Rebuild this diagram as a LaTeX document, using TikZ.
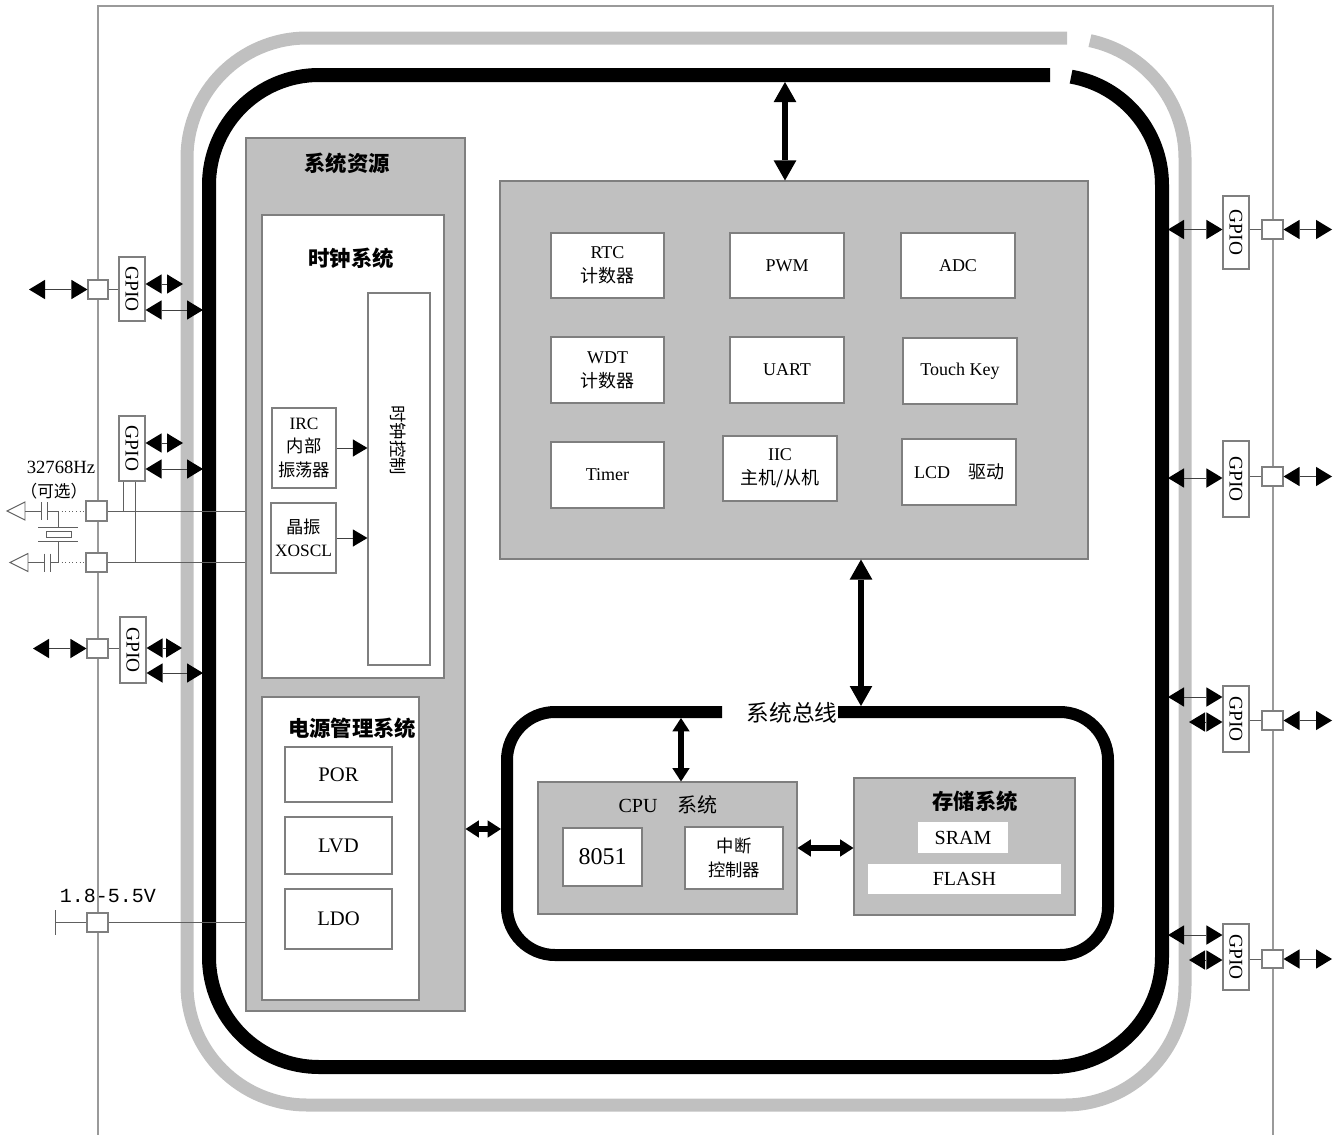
\documentclass[tikz,border=0pt]{standalone}
\usepackage{fontspec}
\setmainfont{Liberation Serif}
\newfontfamily\cjk{Noto Sans CJK SC}
\newfontfamily\monofnt{Liberation Mono}
\usetikzlibrary{arrows.meta,fit}
\newcommand\zh[1]{{\cjk #1}}
\newcommand\fs[2]{\fontsize{#1}{#2}\selectfont}
\newcommand\bxt[6]{\node[#4,fit={(#2) (#3)}] (#1) {};\node[align=center,inner sep=0pt,#5] (#1-t) at (#1.center) {#6};}
\definecolor{ringgray}{HTML}{C0C0C0}
\definecolor{edgegray}{HTML}{7F7F7F}
\definecolor{framegray}{HTML}{9A9A9A}
\definecolor{linegray}{HTML}{606060}
\definecolor{arrgray}{HTML}{404040}
\begin{document}
\begin{tikzpicture}[x=0.75pt,y=-0.75pt,
 panel/.style={draw=edgegray,fill=ringgray,line width=0.8pt,inner sep=0pt},
 wbox/.style={draw=edgegray,fill=white,line width=0.8pt,inner sep=0pt},
 wfill/.style={fill=white,inner sep=0pt},
 wire/.style={draw=linegray,line width=0.7pt},
 gp/.style={draw=arrgray,line width=0.7pt,{Triangle[length=12pt,width=14.5pt,line width=0pt,fill=black,color=black]}-{Triangle[length=12pt,width=14.5pt,line width=0pt,fill=black,color=black]}},
 bigarr/.style={draw=black,line width=5pt,{Triangle[length=15pt,width=17pt,line width=0pt]}-{Triangle[length=15pt,width=17pt,line width=0pt]}},
 midarr/.style={draw=black,line width=4pt,{Triangle[length=10pt,width=13pt,line width=0pt]}-{Triangle[length=10pt,width=13pt,line width=0pt]}},
 feed/.style={draw=arrgray,line width=0.7pt,-{Triangle[length=11pt,width=13pt,line width=0pt,fill=black,color=black]}},
 ttl/.style={font=\cjk\bfseries\fs{16}{19}},
 pbox/.style={font=\fs{13.5}{18}},
 cbox/.style={font=\fs{13}{17.5}},
 gpiot/.style={rotate=-90,font=\fs{14.5}{16}},
]
\useasboundingbox (0,0) rectangle (1343,1135);

% outer frame
\draw[framegray,line width=1pt] (98,1135) -- (98,6) -- (1273,6) -- (1273,1135);

% gray ring
\draw[ringgray,line width=9.75pt] (1065,158) ++(282:120) arc[start angle=282,end angle=360,radius=120]
  -- (1185,985) arc[start angle=0,end angle=90,radius=120]
  -- (307,1105) arc[start angle=90,end angle=180,radius=120]
  -- (187,158) arc[start angle=180,end angle=270,radius=120] -- (1067,38);
% black ring
\draw[black,line width=10.5pt] (1052,185) ++(280:110) arc[start angle=280,end angle=360,radius=110]
  -- (1162,957) arc[start angle=0,end angle=90,radius=110]
  -- (319,1067) arc[start angle=90,end angle=180,radius=110]
  -- (209,185) arc[start angle=180,end angle=270,radius=110] -- (1050,75);

% system resources
\node[panel,fit={(246,138) (465,1011)}] (sysres) {};
\node[ttl] (sysrest) at (347,163) {系统资源};
\node[wbox,fit={(262,215) (444,678)}] (clk) {};
\node[ttl] (clkt) at (351,258) {时钟系统};
\node[wbox,fit={(368,293) (430,665)}] (clkctl) {};
\node[rotate=-90,font=\cjk\fs{13}{15}] (clkctlt) at (398,440) {时钟控制};
\bxt{irc}{272,408}{336,488}{wbox}{cbox}{IRC\\\zh{内部}\\\zh{振荡器}}
\bxt{xosc}{271,503}{336,573}{wbox}{cbox}{\zh{晶振}\\XOSCL}
\draw[feed] (irc.east) -- (irc.east -| clkctl.west);
\draw[feed] (xosc.east) -- (xosc.east -| clkctl.west);

\node[wbox,fit={(262,697) (419,1000)}] (pwr) {};
\node[ttl] (pwrt) at (352,728) {电源管理系统};
\bxt{por}{285,747}{392,802}{wbox}{font=\fs{15.5}{18}}{POR}
\bxt{lvd}{285,817}{392,874}{wbox}{font=\fs{15.5}{18}}{LVD}
\bxt{ldo}{285,889}{392,949}{wbox}{font=\fs{15.5}{18}}{LDO}

% peripherals
\node[panel,fit={(500,181) (1088,559)}] (periph) {};
\bxt{rtc}{551,233}{664,298}{wbox}{pbox}{RTC\\\zh{计数器}}
\bxt{pwm}{730,233}{844,298}{wbox}{pbox}{PWM}
\bxt{adc}{901,233}{1015,298}{wbox}{pbox}{ADC}
\bxt{wdt}{551,337}{664,403}{wbox}{pbox}{WDT\\\zh{计数器}}
\bxt{uart}{730,337}{844,403}{wbox}{pbox}{UART}
\bxt{touch}{903,338}{1017,404}{wbox}{pbox}{Touch Key}
\bxt{timer}{551,442}{664,508}{wbox}{pbox}{Timer}
\bxt{iic}{723,436}{837,501}{wbox}{pbox}{IIC\\\zh{主机/从机}}
\bxt{lcd}{902,439}{1016,505}{wbox}{pbox}{LCD\quad\zh{驱动}}

% system bus
\draw[black,line width=9pt,rounded corners=36pt] (722,712) -- (507,712) -- (507,955) -- (1108,955) -- (1108,712) -- (838,712);
\node[font=\cjk\fs{17}{20}] (busl) at (792,713) {系统总线};
\node[panel,fit={(538,782) (797,914)}] (cpu) {};
\node[font=\fs{15}{18}] (cput) at (668,805) {CPU\quad\zh{系统}};
\bxt{c8051}{563,828}{642,886}{wbox}{font=\fs{18}{20}}{8051}
\bxt{intc}{685,827}{783,889}{wbox}{font=\cjk\fs{13}{17.5}}{中断\\控制器}
\node[panel,fit={(854,778) (1075,915)}] (mem) {};
\node[ttl] (memt) at (975,801) {存储系统};
\bxt{sram}{918,822}{1008,853}{wfill}{font=\fs{15}{18}}{SRAM}
\bxt{flash}{868,864}{1061,894}{wfill}{font=\fs{15}{18}}{FLASH}

% bus arrows
\coordinate (toptap) at (785,82);
\draw[bigarr] (toptap) -- (toptap |- periph.north);
\coordinate (bustap) at (861,706);
\draw[bigarr] (bustap |- periph.south) -- (bustap);
\coordinate (cputap) at (681,718);
\draw[midarr] (cputap) -- (cputap |- cpu.north);
\draw[midarr] (cpu.east) -- (cpu.east -| mem.west);
\coordinate (restap) at (501,829);
\draw[midarr] (restap -| sysres.east) -- (restap);

% left GPIO 1
\node[wbox,fit={(119,257) (145,321)}] (gl1) {};
\node[gpiot] (gl1t) at (gl1.center) {GPIO};
\node[wbox,fit={(88,280) (108,299)}] (sl1) {};
\coordinate (el1) at (29,289.5);
\draw[gp] (el1) -- (el1 -| sl1.west);
\draw[wire] (sl1.east) -- (sl1.east -| gl1.west);
\coordinate (gg1) at (183,284);
\draw[gp] (gg1 -| gl1.east) -- (gg1);
\coordinate (bb1) at (203,310);
\draw[gp] (bb1 -| gl1.east) -- (bb1);

% left GPIO 2 and crystal
\node[wbox,fit={(119,416) (145,481)}] (gl2) {};
\node[gpiot] (gl2t) at (gl2.center) {GPIO};
\coordinate (gg2) at (183,443);
\draw[gp] (gg2 -| gl2.east) -- (gg2);
\coordinate (bb2) at (203,469);
\draw[gp] (bb2 -| gl2.east) -- (bb2);
\node[wbox,fit={(86,501) (107,521)}] (xa) {};
\node[wbox,fit={(86,553) (107,572)}] (xb) {};
\draw[wire] (xa.east) -- (xa.east -| sysres.west);
\draw[wire] (xb.east) -- (xb.east -| sysres.west);
\coordinate (ta) at (123,0);
\coordinate (tb) at (135,0);
\draw[wire] (gl2.south -| ta) -- (xa.east -| ta);
\draw[wire] (gl2.south -| tb) -- (xb.east -| tb);
\draw[wire] (7,511) -- (25,502) -- (25,520) -- cycle;
\draw[wire] (25,511) -- (41,511) (41,502) -- (41,520) (47,502) -- (47,520) (47,511) -- (58,511);
\draw[wire,dotted] (58,511) -- (xa.west);
\draw[wire] (58,511) -- (58,527) (38,527) -- (78,527) (46,531) rectangle (71,537) (38,541) -- (78,541) (58,541) -- (58,562.5);
\draw[wire] (10,562.5) -- (28,553.5) -- (28,571.5) -- cycle;
\draw[wire] (28,562.5) -- (44,562.5) (44,553.5) -- (44,571.5) (50,553.5) -- (50,571.5) (50,562.5) -- (58,562.5);
\draw[wire,dotted] (58,562.5) -- (xb.west);
\node[font=\fs{14}{16}] (hz) at (61,467) {32768Hz};
\node[font=\cjk\fs{12.5}{15}] (opt) at (54,491) {（可选）};

% left GPIO 3
\node[wbox,fit={(120,617) (146,683)}] (gl3) {};
\node[gpiot] (gl3t) at (gl3.center) {GPIO};
\node[wbox,fit={(87,639) (108,658)}] (sl3) {};
\coordinate (el3) at (33,648.5);
\draw[gp] (el3) -- (el3 -| sl3.west);
\draw[wire] (sl3.east) -- (sl3.east -| gl3.west);
\coordinate (gg3) at (182,648);
\draw[gp] (gg3 -| gl3.east) -- (gg3);
\coordinate (bb3) at (203,673);
\draw[gp] (bb3 -| gl3.east) -- (bb3);

% supply
\node[wbox,fit={(87,913) (108,932)}] (spw) {};
\coordinate (vin) at (55,922.5);
\draw[wire] (vin) -- (vin -| spw.west);
\draw[wire] (55,910) -- (55,935);
\draw[wire] (spw.east) -- (spw.east -| sysres.west);
\node[font=\monofnt\fs{15}{16}] (vlab) at (108,896) {1.8-5.5V};

% right GPIOs
\node[wbox,fit={(1223,196) (1249,269)}] (gr1) {};
\node[gpiot] (gr1t) at (gr1.center) {GPIO};
\node[wbox,fit={(1262,220) (1283,239)}] (sr1) {};
\coordinate (rb1) at (1168,229.5);
\draw[gp] (rb1) -- (rb1 -| gr1.west);
\draw[wire] (sr1.west -| gr1.east) -- (sr1.west);
\coordinate (re1) at (1332,0);
\draw[gp] (sr1.east) -- (sr1.east -| re1);

\node[wbox,fit={(1223,441) (1249,517)}] (gr2) {};
\node[gpiot] (gr2t) at (gr2.center) {GPIO};
\node[wbox,fit={(1262,467) (1283,486)}] (sr2) {};
\coordinate (rb2) at (1168,478);
\draw[gp] (rb2) -- (rb2 -| gr2.west);
\draw[wire] (sr2.west -| gr2.east) -- (sr2.west);
\draw[gp] (sr2.east) -- (sr2.east -| re1);

\node[wbox,fit={(1223,686) (1249,752)}] (gr3) {};
\node[gpiot] (gr3t) at (gr3.center) {GPIO};
\node[wbox,fit={(1262,711) (1283,730)}] (sr3) {};
\coordinate (rb3) at (1168,697);
\draw[gp] (rb3) -- (rb3 -| gr3.west);
\coordinate (rg3) at (1189,722);
\draw[gp] (rg3) -- (rg3 -| gr3.west);
\draw[wire] (sr3.west -| gr3.east) -- (sr3.west);
\draw[gp] (sr3.east) -- (sr3.east -| re1);

\node[wbox,fit={(1223,924) (1249,990)}] (gr4) {};
\node[gpiot] (gr4t) at (gr4.center) {GPIO};
\node[wbox,fit={(1262,950) (1283,968)}] (sr4) {};
\coordinate (rb4) at (1168,935);
\draw[gp] (rb4) -- (rb4 -| gr4.west);
\coordinate (rg4) at (1189,960);
\draw[gp] (rg4) -- (rg4 -| gr4.west);
\draw[wire] (sr4.west -| gr4.east) -- (sr4.west);
\draw[gp] (sr4.east) -- (sr4.east -| re1);
\end{tikzpicture}
\end{document}
